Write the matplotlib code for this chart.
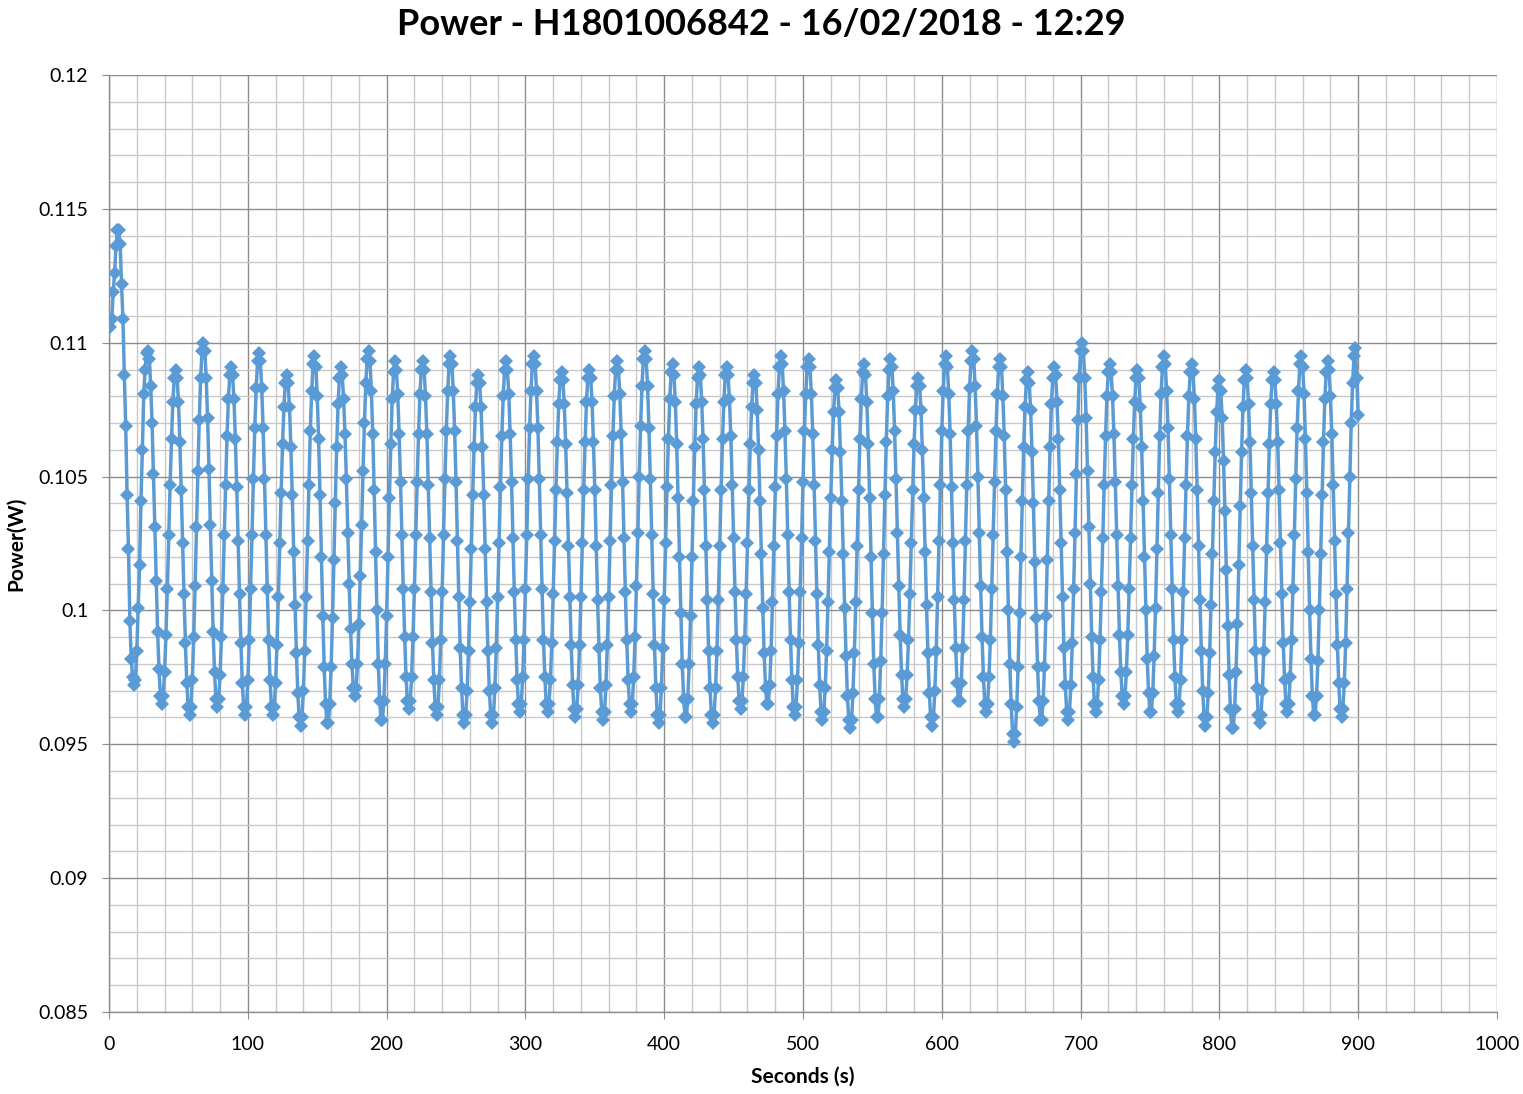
import numpy as np
import matplotlib
matplotlib.use("Agg")
import matplotlib.pyplot as plt
from matplotlib.ticker import MultipleLocator

plt.rcParams['font.family'] = ['Lato', 'DejaVu Sans']

title = "Power - H1801006842 - 16/02/2018 - 12:29"
x_label = "Seconds (s)"
y_label = "Power(W)"

# one sample per second, values in mW
startup_mw = [
    110.6, 110.9, 111.9, 112.6, 113.6, 114.2, 114.2, 113.7, 112.2, 110.9,
    108.8, 106.9, 104.3, 102.3, 99.6, 98.2, 97.5, 97.2, 97.4, 98.5,
    100.1, 101.7, 104.1, 106.0, 108.1, 109.0, 109.6,
]

oscillation_mw = [
    # t = 28 .. 205
    109.7, 109.4, 108.4, 107.0, 105.1, 103.1, 101.1, 99.2, 97.8, 96.8, 96.5, 96.8, 97.7, 99.1, 100.8, 102.8, 104.7, 106.4, 107.8, 108.7,
    109.0, 108.7, 107.8, 106.3, 104.5, 102.5, 100.6, 98.8, 97.3, 96.4, 96.1, 96.4, 97.4, 99.0, 100.9, 103.1, 105.2, 107.1, 108.7, 109.7,
    110.0, 109.7, 108.7, 107.2, 105.3, 103.2, 101.1, 99.2, 97.7, 96.7, 96.4, 96.7, 97.6, 99.0, 100.8, 102.8, 104.7, 106.5, 107.9, 108.8,
    109.1, 108.8, 107.9, 106.4, 104.6, 102.6, 100.6, 98.8, 97.3, 96.4, 96.1, 96.4, 97.4, 98.9, 100.8, 102.8, 104.9, 106.8, 108.3, 109.3,
    109.6, 109.3, 108.3, 106.8, 104.9, 102.8, 100.8, 98.9, 97.4, 96.4, 96.1, 96.4, 97.3, 98.7, 100.5, 102.5, 104.4, 106.2, 107.6, 108.5,
    108.8, 108.5, 107.6, 106.1, 104.3, 102.2, 100.2, 98.4, 96.9, 96.0, 95.7, 96.0, 97.0, 98.5, 100.5, 102.6, 104.7, 106.7, 108.2, 109.2,
    109.5, 109.1, 108.0, 106.4, 104.3, 102.0, 99.8, 97.9, 96.5, 95.8, 95.8, 96.5, 97.9, 99.7, 101.9, 104.0, 106.1, 107.7, 108.7,
    109.1, 108.8, 107.9, 106.6, 104.9, 102.9, 101.0, 99.3, 98.0, 97.1, 96.8, 97.1, 98.0, 99.5, 101.3, 103.2, 105.2, 107.0, 108.5, 109.4,
    109.7, 109.3, 108.2, 106.6, 104.5, 102.2, 100.0, 98.0, 96.6, 95.9, 95.9, 96.6, 98.0, 99.8, 102.0, 104.2, 106.2, 107.9, 108.9,
    # t = 206 .. 405
    109.3, 109.0, 108.1, 106.6, 104.8, 102.8, 100.8, 99.0, 97.5, 96.6, 96.3, 96.6, 97.5, 99.0, 100.8, 102.8, 104.8, 106.6, 108.1, 109.0,
    109.3, 109.0, 108.0, 106.6, 104.7, 102.7, 100.7, 98.8, 97.4, 96.4, 96.1, 96.4, 97.4, 98.9, 100.7, 102.8, 104.9, 106.7, 108.2, 109.2,
    109.5, 109.2, 108.2, 106.7, 104.8, 102.6, 100.5, 98.6, 97.1, 96.1, 95.8, 96.1, 97.0, 98.5, 100.3, 102.3, 104.3, 106.1, 107.6, 108.5,
    108.8, 108.5, 107.6, 106.1, 104.3, 102.3, 100.3, 98.5, 97.0, 96.1, 95.8, 96.1, 97.1, 98.6, 100.5, 102.5, 104.6, 106.5, 108.0, 109.0,
    109.3, 109.0, 108.1, 106.6, 104.8, 102.7, 100.7, 98.9, 97.4, 96.5, 96.2, 96.5, 97.5, 98.9, 100.8, 102.8, 104.9, 106.8, 108.2, 109.2,
    109.5, 109.2, 108.2, 106.8, 104.9, 102.8, 100.8, 98.9, 97.5, 96.5, 96.2, 96.5, 97.4, 98.8, 100.6, 102.6, 104.5, 106.3, 107.7, 108.6,
    108.9, 108.6, 107.7, 106.2, 104.4, 102.4, 100.5, 98.7, 97.2, 96.3, 96.0, 96.3, 97.2, 98.7, 100.5, 102.5, 104.5, 106.3, 107.8, 108.7,
    109.0, 108.7, 107.8, 106.3, 104.5, 102.4, 100.4, 98.6, 97.1, 96.2, 95.9, 96.2, 97.2, 98.7, 100.5, 102.6, 104.7, 106.5, 108.0, 109.0,
    109.3, 109.0, 108.1, 106.6, 104.8, 102.7, 100.7, 98.9, 97.4, 96.5, 96.2, 96.5, 97.5, 99.0, 100.9, 102.9, 105.0, 106.9, 108.4, 109.4,
    109.7, 109.4, 108.4, 106.8, 104.9, 102.8, 100.6, 98.7, 97.1, 96.1, 95.8, 96.1, 97.1, 98.6, 100.4, 102.5, 104.6, 106.4, 107.9, 108.9,
    # t = 406 .. 602
    109.2, 108.8, 107.8, 106.2, 104.2, 102.0, 99.9, 98.0, 96.7, 96.0, 96.0, 96.7, 98.0, 99.8, 102.0, 104.1, 106.1, 107.7, 108.7,
    109.1, 108.8, 107.8, 106.4, 104.5, 102.4, 100.4, 98.5, 97.1, 96.1, 95.8, 96.1, 97.1, 98.5, 100.4, 102.4, 104.5, 106.4, 107.8, 108.8,
    109.1, 108.8, 107.9, 106.5, 104.7, 102.7, 100.7, 98.9, 97.5, 96.6, 96.3, 96.6, 97.5, 98.9, 100.6, 102.5, 104.5, 106.2, 107.6, 108.5,
    108.8, 108.5, 107.5, 106.0, 104.1, 102.1, 100.1, 98.4, 97.1, 96.5, 96.5, 97.2, 98.5, 100.3, 102.4, 104.6, 106.5, 108.1, 109.1,
    109.5, 109.2, 108.2, 106.7, 104.9, 102.8, 100.7, 98.9, 97.4, 96.4, 96.1, 96.4, 97.4, 98.8, 100.7, 102.7, 104.8, 106.7, 108.1, 109.1,
    109.4, 109.1, 108.1, 106.6, 104.7, 102.6, 100.6, 98.7, 97.2, 96.2, 95.9, 96.2, 97.1, 98.5, 100.3, 102.2, 104.2, 106.0, 107.4, 108.3,
    108.6, 108.3, 107.4, 105.9, 104.1, 102.1, 100.1, 98.3, 96.8, 95.9, 95.6, 95.9, 96.9, 98.4, 100.3, 102.4, 104.5, 106.4, 107.9, 108.9,
    109.2, 108.8, 107.8, 106.2, 104.2, 102.0, 99.9, 98.0, 96.7, 96.0, 96.0, 96.7, 98.1, 99.9, 102.1, 104.3, 106.3, 108.0, 109.0,
    109.4, 109.1, 108.2, 106.7, 104.9, 102.9, 100.9, 99.1, 97.6, 96.7, 96.4, 96.7, 97.6, 98.9, 100.6, 102.5, 104.5, 106.2, 107.5, 108.4,
    108.7, 108.4, 107.5, 106.0, 104.2, 102.2, 100.2, 98.4, 96.9, 96.0, 95.7, 96.0, 97.0, 98.5, 100.5, 102.6, 104.7, 106.7, 108.2, 109.2,
    # t = 603 .. 799
    109.5, 109.1, 108.1, 106.6, 104.6, 102.5, 100.4, 98.6, 97.3, 96.6, 96.6, 97.3, 98.6, 100.4, 102.6, 104.7, 106.7, 108.3, 109.3,
    109.7, 109.4, 108.4, 106.9, 105.0, 102.9, 100.9, 99.0, 97.5, 96.5, 96.2, 96.5, 97.5, 98.9, 100.8, 102.8, 104.8, 106.7, 108.1, 109.1,
    109.4, 109.1, 108.0, 106.5, 104.5, 102.2, 100.0, 98.0, 96.5, 95.4, 95.1, 95.4, 96.4, 97.9, 99.9, 102.0, 104.1, 106.1, 107.6, 108.6,
    108.9, 108.5, 107.5, 105.9, 104.0, 101.8, 99.7, 97.9, 96.6, 95.9, 95.9, 96.6, 97.9, 99.8, 101.9, 104.1, 106.1, 107.7, 108.7,
    109.1, 108.8, 107.8, 106.4, 104.5, 102.5, 100.5, 98.6, 97.2, 96.2, 95.9, 96.2, 97.2, 98.8, 100.8, 102.9, 105.1, 107.1, 108.7, 109.7,
    110.0, 109.7, 108.7, 107.2, 105.2, 103.1, 101.0, 99.0, 97.5, 96.5, 96.2, 96.5, 97.4, 98.9, 100.7, 102.7, 104.7, 106.5, 108.0, 108.9,
    109.2, 108.9, 108.0, 106.6, 104.8, 102.8, 100.9, 99.1, 97.7, 96.8, 96.5, 96.8, 97.7, 99.1, 100.8, 102.7, 104.7, 106.4, 107.8, 108.7,
    109.0, 108.7, 107.6, 106.1, 104.1, 102.0, 100.0, 98.2, 96.9, 96.2, 96.2, 96.9, 98.3, 100.1, 102.3, 104.4, 106.5, 108.1, 109.1,
    109.5, 109.2, 108.2, 106.8, 104.9, 102.8, 100.8, 98.9, 97.5, 96.5, 96.2, 96.5, 97.4, 98.9, 100.7, 102.7, 104.7, 106.5, 108.0, 108.9,
    109.2, 108.9, 107.9, 106.4, 104.5, 102.4, 100.4, 98.5, 97.0, 96.0, 95.7, 96.0, 96.9, 98.4, 100.2, 102.1, 104.1, 105.9, 107.4, 108.3,
    # t = 800 .. 897
    108.6, 108.2, 107.2, 105.6, 103.7, 101.5, 99.4, 97.6, 96.3, 95.6, 95.6, 96.3, 97.7, 99.5, 101.7, 103.9, 105.9, 107.6, 108.6,
    109.0, 108.7, 107.7, 106.3, 104.4, 102.4, 100.4, 98.5, 97.1, 96.1, 95.8, 96.1, 97.0, 98.5, 100.3, 102.3, 104.4, 106.2, 107.7, 108.6,
    108.9, 108.6, 107.7, 106.3, 104.5, 102.5, 100.6, 98.8, 97.4, 96.5, 96.2, 96.5, 97.5, 98.9, 100.8, 102.8, 104.9, 106.8, 108.2, 109.2,
    109.5, 109.1, 108.1, 106.4, 104.4, 102.2, 100.0, 98.2, 96.8, 96.1, 96.1, 96.8, 98.1, 100.0, 102.1, 104.3, 106.3, 107.9, 108.9,
    109.3, 109.0, 108.0, 106.6, 104.7, 102.6, 100.6, 98.7, 97.3, 96.3, 96.0, 96.3, 97.3, 98.8, 100.8, 102.9, 105.0, 107.0, 108.5, 109.5,
]

final_mw = [109.8, 108.7, 107.3]

power_w = np.array(startup_mw + oscillation_mw + final_mw) / 1000.0
seconds = np.arange(1, len(power_w) + 1)

fig = plt.figure(figsize=(15.23, 10.94), dpi=100)
ax = fig.add_axes([0.0716, 0.075, 0.9113, 0.8564])

ax.plot(seconds, power_w, color='#5B9BD5', linewidth=2.5,
        marker='D', markersize=7.5, markeredgewidth=0, zorder=3)

ax.set_xlim(0, 1000)
ax.set_ylim(0.085, 0.12)
ax.xaxis.set_major_locator(MultipleLocator(100))
ax.xaxis.set_minor_locator(MultipleLocator(20))
ax.yaxis.set_minor_locator(MultipleLocator(0.001))
ax.set_yticks(np.arange(0.085, 0.1201, 0.005))
ax.set_yticklabels(['0.085', '0.09', '0.095', '0.1', '0.105', '0.11', '0.115', '0.12'])

ax.grid(which='major', color='#8c8c8c', linewidth=1.0, zorder=0)
ax.grid(which='minor', color='#c8c8c8', linewidth=1.0, zorder=0)
ax.set_axisbelow(True)

for side in ['top', 'right']:
    ax.spines[side].set_visible(False)
for side in ['left', 'bottom']:
    ax.spines[side].set_color('#8c8c8c')
    ax.spines[side].set_linewidth(1.0)

ax.tick_params(which='major', length=5, color='#8c8c8c', labelsize=14,
               labelcolor='black')
ax.tick_params(axis='x', which='major', pad=12)
ax.tick_params(axis='y', which='major', pad=10)
ax.tick_params(which='minor', length=0)

ax.set_xlabel(x_label, fontsize=15, fontweight='bold', labelpad=10)
ax.set_ylabel(y_label, fontsize=15, fontweight='bold', labelpad=9)
fig.suptitle(title, fontsize=26, fontweight='bold', y=0.993)

plt.savefig('out.png', dpi=100)
